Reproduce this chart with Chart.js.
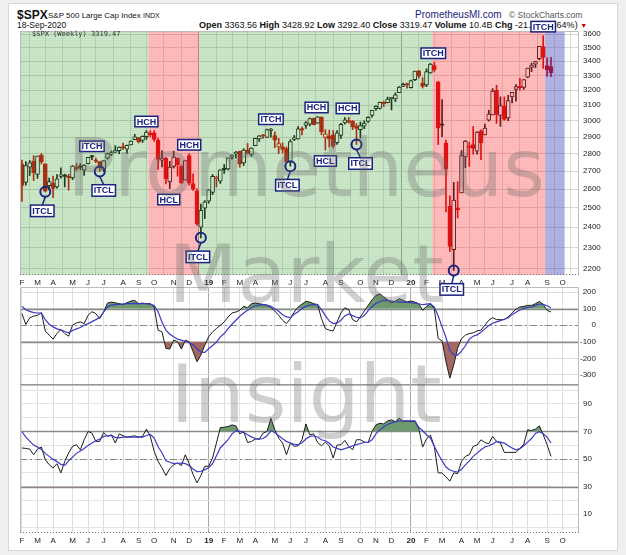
<!DOCTYPE html>
<html>
<head>
<meta charset="utf-8">
<title>$SPX Weekly</title>
<script src="https://cdn.jsdelivr.net/npm/chart.js@4.4.1/dist/chart.umd.min.js"></script>
<style>
  body { margin: 0; background: #efefef; }
  #wrap { position: relative; width: 626px; height: 555px; overflow: hidden; }
  #card { position: absolute; left: 8px; top: 3px; width: 608px; height: 546px; background: #fff; border: 1px solid #d8d8d8; }
  .t { position: absolute; white-space: nowrap; font-family: 'Liberation Sans', Arial, sans-serif; color: #111; }
  canvas { position: absolute; left: 0; top: 0; }
  .wm { position: absolute; left: 0; width: 612px; text-align: center; font: 80px/80px 'DejaVu Sans', sans-serif; color: rgba(105,105,105,0.32); pointer-events: none; }
</style>
</head>
<body>
<div id="wrap">
  <div id="card"></div>
  <div class="t" style="left:17px;top:9px;font-size:12px;line-height:12px;font-weight:bold">$SPX</div>
  <div class="t" style="left:48px;top:12px;font-size:8px;line-height:8px">S&amp;P 500 Large Cap Index <span style="font-size:7px">INDX</span></div>
  <div class="t" style="left:17px;top:21px;font-size:8.5px;line-height:8.5px">18-Sep-2020</div>
  <div class="t" style="left:199px;top:21px;font-size:9px;line-height:8.5px"><b>Open</b> 3363.56 <b>High</b> 3428.92 <b>Low</b> 3292.40 <b>Close</b> 3319.47 <b>Volume</b> 10.4B <b>Chg</b> -21.50 (-0.64%) <span style="color:#c00000;font-size:7px">&#9660;</span></div>
  <div class="t" style="left:415px;top:10px;font-size:10px;line-height:10px;color:#1b237e">PrometheusMI.com</div>
  <div class="t" style="left:509px;top:11px;font-size:8.5px;line-height:8.5px;color:#555">&copy; StockCharts.com</div>

  <canvas id="cCci" width="626" height="555"></canvas>
  <canvas id="cPrice" width="626" height="555"></canvas>
  <canvas id="cRsi" width="626" height="555"></canvas>

  <div class="t" style="left:32px;top:31px;font:7px/7px 'DejaVu Sans Mono', monospace;color:#333">$SPX (Weekly) 3319.47</div>
  <div class="wm" style="top:129px">Prometheus</div>
  <div class="wm" style="top:235px">Market</div>
  <div class="wm" style="top:355px">Insight</div>
</div>

<script>
// ---- weekly candles, week 0 = 5-Feb-2018 ... week 136 = 14-Sep-2020
const opens = [2741,2636,2722,2757,2681,2791,2741,2619,2633,2612,2670,2675,2669,2662,2722,2725,2705,2742,2781,2765,
  2755,2705,2775,2798,2810,2819,2840,2827,2853,2884,2897,2880,2903,2924,2926,2882,2763,2773,2640,2727,
  2775,2730,2649,2790,2630,2591,2400,2498,2535,2582,2657,2644,2713,2712,2779,2799,2815,2747,2823,2796,
  2848,2889,2908,2898,2940,2909,2841,2841,2830,2752,2886,2889,2952,2971,2980,3017,2986,3024,2898,2907,
  2913,2866,2910,2988,3001,2999,2967,2945,2967,2996,3035,3078,3080,3118,3117,3143,3141,3183,3226,3240,
  3217,3271,3333,3248,3235,3318,3369,3257,2974,2864,2509,2290,2498,2579,2782,2846,2855,2815,2938,2913,
  3005,3038,3199,3034,3095,3019,3155,3205,3224,3219,3289,3356,3380,3418,3507,3370,3363];
const highs = [2763,2754,2761,2789,2787,2802,2742,2661,2672,2680,2718,2683,2683,2732,2743,2742,2737,2779,2791,2775,
  2755,2760,2804,2816,2848,2841,2863,2852,2877,2916,2898,2908,2940,2939,2939,2894,2817,2779,2756,2815,
  2775,2731,2760,2800,2685,2601,2520,2538,2597,2681,2672,2708,2738,2775,2794,2814,2816,2830,2861,2836,
  2893,2910,2917,2949,2954,2932,2892,2865,2841,2884,2910,2964,2961,2996,3018,3018,3028,3027,2945,2943,
  2940,2940,2985,3021,3022,3002,2983,2993,3000,3027,3066,3097,3121,3127,3154,3150,3182,3225,3248,3248,
  3268,3330,3337,3285,3347,3385,3393,3260,3137,2882,2563,2637,2641,2819,2880,2869,2965,2934,2945,2980,
  3068,3211,3233,3155,3155,3165,3186,3238,3280,3272,3352,3387,3399,3509,3588,3425,3429];
const lows = [2533,2622,2675,2647,2659,2741,2585,2594,2553,2605,2660,2612,2594,2652,2702,2707,2676,2741,2765,2748,
  2698,2699,2769,2789,2806,2800,2826,2802,2853,2884,2864,2867,2886,2903,2874,2710,2724,2628,2603,2717,
  2671,2631,2649,2621,2593,2409,2347,2444,2524,2570,2612,2631,2687,2707,2768,2775,2722,2732,2800,2785,
  2848,2873,2891,2898,2900,2836,2801,2805,2750,2728,2878,2887,2913,2953,2968,2975,2984,2914,2822,2840,
  2834,2856,2891,2980,2986,2946,2855,2893,2951,2991,3024,3067,3075,3091,3115,3070,3124,3183,3223,3213,
  3214,3264,3281,3214,3223,3315,3328,2855,2902,2478,2281,2192,2447,2579,2719,2727,2797,2798,2766,2913,
  2999,3038,2984,2966,3004,3001,3115,3127,3200,3205,3284,3327,3355,3410,3349,3293,3292];
const closes = [2620,2732,2747,2691,2786,2752,2588,2641,2604,2656,2670,2670,2663,2728,2713,2721,2735,2779,2780,2755,
  2718,2760,2801,2802,2819,2840,2833,2850,2875,2901,2872,2905,2930,2914,2886,2767,2768,2658,2723,2781,
  2736,2633,2760,2633,2600,2417,2486,2532,2596,2671,2665,2707,2708,2776,2793,2804,2743,2822,2801,2834,
  2893,2907,2905,2946,2946,2881,2860,2826,2752,2873,2887,2950,2942,2990,3014,2977,3025,2932,2919,2889,
  2847,2926,2979,3007,2992,2962,2953,2970,2986,3023,3067,3093,3120,3110,3141,3146,3169,3221,3240,3235,
  3265,3330,3295,3226,3328,3380,3338,2954,2972,2711,2305,2541,2489,2790,2875,2837,2831,2930,2864,2955,
  3044,3193,3041,3098,3009,3130,3185,3224,3216,3271,3351,3373,3397,3508,3427,3341,3319];

// ---- oscillator panel (range -300..200) : black line and its blue average
const cciLine = [70,5,45,55,60,75,-35,-60,-84,-50,-26,-50,-66,0,14,20,10,60,82,70,
  40,80,134,140,136,130,126,136,146,150,130,134,130,130,110,-30,-40,-140,-144,-90,
  -100,-144,-90,-100,-160,-220,-180,-120,-70,-40,-20,0,20,50,74,80,90,114,106,130,
  134,130,126,120,106,86,60,30,10,40,80,110,128,144,140,130,125,40,-20,-30,
  -35,20,74,106,94,34,20,50,86,120,154,180,190,170,154,136,146,160,150,140,
  146,140,130,90,114,130,100,-80,-94,-220,-320,-240,-140,-80,-60,-50,-46,-34,-30,0,
  30,46,34,34,34,50,74,98,110,114,120,120,130,144,126,90,80];
const cciAvg = [114,94,84,76,74,74,34,6,-10,-22,-28,-38,-46,-32,-22,-14,0,10,22,34,
  48,80,110,122,124,126,128,130,130,132,130,130,130,128,120,82,20,-30,-54,-70,
  -84,-90,-98,-106,-118,-142,-162,-164,-142,-122,-102,-70,-50,-20,6,30,54,74,90,106,
  118,122,124,122,114,100,84,64,50,46,66,82,102,114,122,124,124,94,58,26,
  10,14,30,56,68,58,48,44,58,88,112,132,142,152,150,146,142,140,140,138,
  136,134,130,124,128,130,110,56,-10,-74,-150,-180,-180,-156,-124,-84,-66,-58,-42,-22,
  -2,12,20,28,36,46,64,78,92,102,106,110,120,128,126,118,106];

// ---- strength panel (range 0..100) : black line and its blue average
const rsiLine = [58,57.7,57.2,53.1,57.2,58.7,49.5,45.9,43.5,46.6,39.9,48.3,54.3,59.2,60.4,56.7,64,70,68.8,62.8,
  62.8,69.3,66.4,67.6,61.6,68.3,66.9,65.9,66.4,66.9,65.9,66.4,71.7,66.4,55.5,48.3,43.5,38,43,45.9,
  47.1,45.2,53.1,46.6,38.7,32.6,38,44.7,44.7,50.7,61.6,72.9,73.1,73.6,74.8,74.1,68.3,70,62,62.8,
  64.5,64.5,68.8,70,79.6,71.2,65.2,61.6,53.1,61.6,59.2,59.6,64,75.5,67.6,68.3,62,59.6,62.3,59.6,
  50.7,60.1,60.4,63.5,59.2,56.7,64,64,62.3,62,70,74.8,76,75.5,77.7,78.4,77.2,79.6,77.2,77.7,
  77.2,77.7,72.4,58.7,64.5,67.4,59.2,39.9,39.9,37,33.9,39.9,39.4,48.3,51.9,53.1,59.2,60.1,64,62,
  61.1,66.4,62.8,61.6,54.8,54.8,54.8,54.8,57.7,60.8,71.2,70.7,71.7,74.1,67.6,60.4,51.9];
const rsiAvg = [69.8,65.9,63,60.1,58.7,57,54.1,51.9,49.8,48.1,46.1,45.4,48.6,51.4,54.1,55.8,57.7,59.9,61.6,63.3,
  64.5,66.4,66.9,67.1,65.7,65.4,65.9,65.9,65.9,65.9,65.9,65.9,67.1,67.8,65.2,58.9,54.6,48.8,47.6,46.6,
  46.9,47.1,46.6,45.2,42.8,40.8,41.1,42.3,43.7,46.6,52.4,58.2,61.1,64,68.3,70.5,70.2,69.3,67.6,66.1,
  64.9,64.5,64.9,66.9,70.5,69.3,66.9,64.7,62.8,61.6,60.6,60.4,61.8,64.5,66.4,66.9,66,64,63.3,61.6,
  58.7,57.7,56.7,57.5,58.4,59.6,60.4,61.3,62,62,64,68.3,71.2,73.4,75.1,76.3,77,77.5,77.7,77.7,
  77.7,77.7,73.1,70.5,67.6,65.2,59.2,53.6,48.6,44.2,42,41.1,40.4,42.5,45.7,48.6,51.9,54.3,56.7,58.7,
  59.6,60.8,62.8,62.3,61.6,59.6,58,56.7,57.5,59.6,62.3,64.9,68.6,69.8,68.3,65.9,61.6];

// ---- axis ticks
const monthLabels = ['F','M','A','M','J','J','A','S','O','N','D','19','F','M','A','M','J','J','A','S','O','N','D','20',
  'F','M','A','M','J','J','A','S','O'];
const monthWeeks = [0,4,8,13,17,21,26,30,34,39,43,48,52,56,60,65,69,73,78,82,87,91,95,100,
  104,108,113,117,121,126,130,135,139];
const priceTicks = [2200,2300,2400,2500,2600,2700,2800,2900,3000,3100,3200,3300,3400,3500,3600];
const cciTicks = [200,100,0,-100,-200,-300];
const cciBands = [100,-100];
const rsiTicks = [0,10,20,30,40,50,60,70,80,90,100];
const rsiLabels = [10,30,50,70,90];
const rsiBands = [70,30];

// ---- shaded cycle phases (in weeks) and cycle labels
const phaseStart = [-0.5,32.5,45.5,105.5,134.5];
const phaseEnd = [32.5,45.5,105.5,134.5,139.5];
const phaseKind = ['up','down','up','down','next'];
const annoLabels = ['ITCL','ITCH','ITCL','HCH','HCL','HCH','ITCL','ITCH','ITCL','HCH','HCL','HCH','ITCL','ITCH','ITCL','ITCH'];
const annoWeeks = [6,18,20,32,38,43,46,64,69,76,78,84,86,106,111,134];
const annoShift = [-3,0,4,0,-1,0,-3,0,-3,-1,0,-1,4,-1,-2,0];

const FONT = "'Liberation Sans', Arial, sans-serif";
const RED = '#d60000';
const BLACK = '#111111';
const NAVY = '#1a237e';
const SHADE = { up: 'rgba(70,165,60,0.27)', down: 'rgba(255,50,50,0.32)', next: 'rgba(60,60,185,0.38)' };
const STRIPE = { up: 'rgba(40,120,40,0.06)', down: 'rgba(200,30,30,0.06)', next: 'rgba(40,40,140,0.06)' };
const XMIN = -0.5, XMAX = 143.2;

const weeks = closes.map((c, i) => i);
const candleColor = weeks.map(i => (i === 0 ? closes[0] < opens[0] : closes[i] < closes[i - 1]) ? RED : BLACK);
const bodyFill = weeks.map(i => closes[i] >= opens[i] ? '#ffffff' : candleColor[i]);

const yearWeeks = monthWeeks.filter((w, k) => monthLabels[k].length === 2);

const monthAxis = (showLabels) => ({
  type: 'linear', min: XMIN, max: XMAX, offset: false, bounds: 'data',
  afterBuildTicks: s => { s.ticks = monthWeeks.map(v => ({ value: v })); },
  afterFit: s => { s.height = showLabels ? 13 : 0; },
  ticks: {
    display: showLabels, autoSkip: false, maxRotation: 0, padding: 3, color: '#222',
    font: ctx => ({ family: FONT, size: 8, weight: ctx.tick && yearWeeks.includes(ctx.tick.value) ? 'bold' : 'normal' }),
    callback: v => monthLabels[monthWeeks.indexOf(v)]
  },
  grid: { color: ctx => ctx.tick && yearWeeks.includes(ctx.tick.value) ? '#a8a8a8' : '#dedede', drawTicks: false },
  border: { display: false }
});

const drawFrame = (ctx, a, dottedBottom, bottomColor) => {
  ctx.save();
  ctx.strokeStyle = '#bdbdbd';
  ctx.lineWidth = 1;
  ctx.beginPath();
  ctx.moveTo(a.left + 0.5, a.bottom);
  ctx.lineTo(a.left + 0.5, a.top + 0.5);
  ctx.lineTo(a.right - 0.5, a.top + 0.5);
  ctx.lineTo(a.right - 0.5, a.bottom);
  ctx.stroke();
  ctx.beginPath();
  ctx.strokeStyle = bottomColor;
  if (dottedBottom) ctx.setLineDash([1, 2]);
  ctx.moveTo(a.left, a.bottom - 0.5);
  ctx.lineTo(a.right, a.bottom - 0.5);
  ctx.stroke();
  ctx.restore();
};

// reference levels for the lower panels: solid bands and a dash-dot middle line
const levelLines = (bands, mid) => ({
  id: 'levels',
  beforeDatasetsDraw(chart) {
    const { ctx, chartArea: a, scales: { y } } = chart;
    ctx.save();
    ctx.strokeStyle = '#8a8a8a';
    ctx.lineWidth = 1.3;
    bands.forEach(v => {
      const py = Math.round(y.getPixelForValue(v)) + 0.5;
      ctx.beginPath(); ctx.moveTo(a.left, py); ctx.lineTo(a.right, py); ctx.stroke();
    });
    ctx.lineWidth = 1;
    ctx.setLineDash([7, 3, 2, 3]);
    const pm = Math.round(y.getPixelForValue(mid)) + 0.5;
    ctx.beginPath(); ctx.moveTo(a.left, pm); ctx.lineTo(a.right, pm); ctx.stroke();
    ctx.restore();
  }
});

// phase shading over the candles, then the cycle labels
const priceDecor = {
  id: 'priceDecor',
  afterDatasetsDraw(chart) {
    const { ctx, chartArea: a, scales: { x, y } } = chart;
    ctx.save();
    ctx.beginPath();
    ctx.rect(a.left, a.top, a.right - a.left, a.bottom - a.top);
    ctx.clip();
    phaseStart.forEach((s, k) => {
      const x0 = x.getPixelForValue(s), x1 = x.getPixelForValue(phaseEnd[k]);
      ctx.fillStyle = SHADE[phaseKind[k]];
      ctx.fillRect(x0, a.top, x1 - x0, a.bottom - a.top);
      ctx.fillStyle = STRIPE[phaseKind[k]];
      for (let yy = a.top + 1; yy < a.bottom; yy += 2) ctx.fillRect(x0, yy, x1 - x0, 1);
    });
    ctx.restore();
    drawFrame(ctx, a, true, '#777');

    ctx.save();
    ctx.font = 'bold 9px ' + FONT;
    ctx.textAlign = 'center';
    ctx.textBaseline = 'middle';
    annoWeeks.forEach((w, k) => {
      const lab = annoLabels[k];
      const atLow = lab === 'ITCL' || lab === 'HCL';
      const px = x.getPixelForValue(w);
      const py = y.getPixelForValue(atLow ? lows[w] : highs[w]);
      const bx = px + annoShift[k];
      const by = py + (lab === 'ITCL' ? 19 : lab === 'HCL' ? 11 : -9);
      const bw = ctx.measureText(lab).width + 3.5;
      const bh = lab === 'ITCL' ? 11.5 : 10.5;
      ctx.strokeStyle = NAVY;
      if (lab === 'ITCL') {
        ctx.lineWidth = 2;
        ctx.beginPath(); ctx.arc(px, py, 5, 0, Math.PI * 2); ctx.stroke();
        ctx.lineWidth = 1.5;
        ctx.beginPath(); ctx.moveTo(px, py + 5); ctx.lineTo(bx, by - bh / 2); ctx.stroke();
      }
      ctx.lineWidth = 1.5;
      ctx.fillStyle = '#ffffff';
      ctx.fillRect(bx - bw / 2, by - bh / 2, bw, bh);
      ctx.strokeRect(bx - bw / 2, by - bh / 2, bw, bh);
      ctx.fillStyle = NAVY;
      ctx.fillText(lab, bx, by + 0.5);
    });
    ctx.restore();
  }
};

const common = {
  responsive: false,
  animation: false,
  events: [],
  plugins: { legend: { display: false }, tooltip: { enabled: false } }
};

// price panel
new Chart(document.getElementById('cPrice'), {
  type: 'bar',
  data: {
    datasets: [{
      data: weeks.map(i => ({ x: i, y: [opens[i], closes[i]] })),
      backgroundColor: bodyFill,
      borderColor: candleColor,
      borderWidth: 1,
      borderSkipped: false,
      barThickness: 4,
      minBarLength: 1.5,
      grouped: false
    }, {
      data: weeks.map(i => ({ x: i, y: [lows[i], highs[i]] })),
      backgroundColor: candleColor,
      borderWidth: 0,
      barThickness: 1,
      grouped: false
    }]
  },
  options: {
    ...common,
    layout: { padding: { left: 20, top: 31, right: 0, bottom: 267 } },
    scales: {
      x: monthAxis(true),
      y: {
        type: 'logarithmic', position: 'right', min: 2171, max: 3623, bounds: 'data',
        afterBuildTicks: s => { s.ticks = priceTicks.map(v => ({ value: v })); },
        afterFit: s => { s.width = 47; },
        ticks: { padding: 4, color: '#222', font: { family: FONT, size: 8 }, callback: v => String(v) },
        grid: { color: '#d6d6d6', drawTicks: false },
        border: { display: false }
      }
    }
  },
  plugins: [priceDecor]
});

// oscillator panel
new Chart(document.getElementById('cCci'), {
  type: 'line',
  data: {
    datasets: [{
      data: weeks.map(i => ({ x: i, y: cciAvg[i] })),
      borderColor: '#3a3ac4', borderWidth: 1.2, pointRadius: 0, fill: false
    }, {
      data: weeks.map(i => ({ x: i, y: cciLine[i] })),
      borderColor: '#1c1c1c', borderWidth: 1, pointRadius: 0,
      fill: { target: { value: 100 }, above: '#6e9a6e', below: 'rgba(0,0,0,0)' }
    }, {
      data: weeks.map(i => ({ x: i, y: cciLine[i] })),
      borderWidth: 0, borderColor: 'rgba(0,0,0,0)', pointRadius: 0,
      fill: { target: { value: -100 }, above: 'rgba(0,0,0,0)', below: '#a2685f' }
    }]
  },
  options: {
    ...common,
    layout: { padding: { left: 20, top: 287, right: 30, bottom: 170 } },
    scales: {
      x: monthAxis(false),
      y: {
        type: 'linear', position: 'right', min: -361, max: 231, bounds: 'data',
        afterBuildTicks: s => { s.ticks = cciTicks.map(v => ({ value: v })); },
        afterFit: s => { s.width = 17; },
        ticks: { padding: 2, crossAlign: 'far', color: '#222', font: { family: FONT, size: 8 }, callback: v => String(v) },
        grid: { color: '#dedede', drawTicks: false },
        border: { display: false }
      }
    }
  },
  plugins: [levelLines(cciBands, 0), {
    id: 'cciFrame',
    afterDatasetsDraw(chart) { drawFrame(chart.ctx, chart.chartArea, false, '#999'); }
  }]
});

// strength panel
new Chart(document.getElementById('cRsi'), {
  type: 'line',
  data: {
    datasets: [{
      data: weeks.map(i => ({ x: i, y: rsiAvg[i] })),
      borderColor: '#3a3ac4', borderWidth: 1.2, pointRadius: 0, fill: false
    }, {
      data: weeks.map(i => ({ x: i, y: rsiLine[i] })),
      borderColor: '#1c1c1c', borderWidth: 1, pointRadius: 0,
      fill: { target: { value: 70 }, above: '#6e9a6e', below: 'rgba(0,0,0,0)' }
    }, {
      data: weeks.map(i => ({ x: i, y: rsiLine[i] })),
      borderWidth: 0, borderColor: 'rgba(0,0,0,0)', pointRadius: 0,
      fill: { target: { value: 30 }, above: 'rgba(0,0,0,0)', below: '#a2685f' }
    }]
  },
  options: {
    ...common,
    layout: { padding: { left: 20, top: 385, right: 0, bottom: 9 } },
    scales: {
      x: monthAxis(true),
      y: {
        type: 'linear', position: 'right', min: -3.8, max: 103.8, bounds: 'data',
        afterBuildTicks: s => { s.ticks = rsiTicks.map(v => ({ value: v })); },
        afterFit: s => { s.width = 47; },
        ticks: { padding: 4, color: '#222', font: { family: FONT, size: 8 }, callback: v => rsiLabels.includes(v) ? String(v) : '' },
        grid: { color: '#e2e2e2', drawTicks: false },
        border: { display: false }
      }
    }
  },
  plugins: [levelLines(rsiBands, 50), {
    id: 'rsiFrame',
    afterDatasetsDraw(chart) { drawFrame(chart.ctx, chart.chartArea, true, '#777'); }
  }]
});
</script>
</body>
</html>
